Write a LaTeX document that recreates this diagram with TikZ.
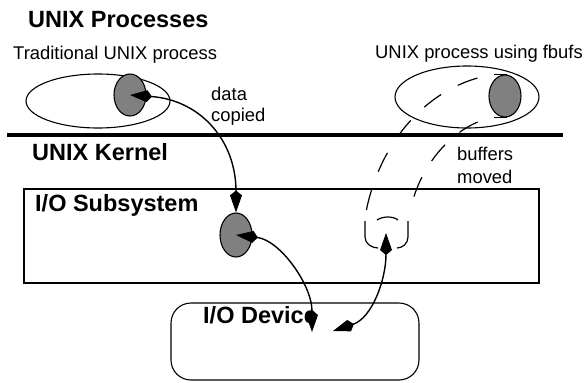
\documentclass[tikz,border=0pt]{standalone}
\usepackage{fontspec}
\setmainfont{Liberation Sans}
\usetikzlibrary{positioning, arrows.meta, shapes.geometric}
\definecolor{bufgray}{RGB}{128,128,128}

\begin{document}
\begin{tikzpicture}[x=1pt, y=-1pt, node distance=0pt,
	head/.style={font=\fontsize{23.5}{28}\selectfont\bfseries, anchor=base west, inner sep=0pt},
	note/.style={font=\fontsize{18.4}{22}\selectfont, anchor=base west, inner sep=0pt},
	proc/.style={ellipse, draw, line width=1.1pt, inner sep=0pt},
	buf/.style={ellipse, draw, fill=bufgray, line width=1.1pt, inner sep=0pt, minimum width=32pt},
	flow/.style={{Kite[length=22pt,width=12pt,inset=5pt]}-{Kite[length=22pt,width=12pt,inset=5pt]}, line width=1.4pt},
	tube/.style={dash pattern=on 21pt off 19pt, dash phase=23pt, line width=1.2pt}]

	\useasboundingbox (0,0) rectangle (587,383);

	\node[head] (tProc) at (28,27) {UNIX Processes};
	\node[note] (tTrad) at (13,59) {Traditional UNIX process};
	\node[note] (tFbuf) at (375,58) {UNIX process using fbufs};

	\node[proc, minimum width=144pt, minimum height=54pt] (procL) at (98,101) {};
	\node[buf, minimum height=42pt] (bufL) at (130,95) {};

	\node[proc, minimum width=144pt, minimum height=62pt] (procR) at (467,97) {};
	\node[buf, minimum height=42pt] (bufR) at (505,96) {};

	\node[note] (tData) at (211,100) {data};
	\node[note] (tCopied) at ([yshift=-21pt]tData.base west) {copied};

	\coordinate (kL) at (7,135);
	\coordinate (kR) at (563,135);
	\draw[line width=4.5pt] (kL) -- (kR);

	\node[head] (tKern) at (32,160) {UNIX Kernel};
	\node[note] (tBuffers) at (457,160) {buffers};
	\node[note] (tMoved) at ([yshift=-23pt]tBuffers.base west) {moved};

	\node[draw, line width=1.1pt, inner sep=0pt, minimum width=515pt, minimum height=94pt] (subsys) at (281.5,236) {};
	\node[head] (tSub) at (35,211) {I/O Subsystem};
	\node[buf, minimum height=44pt] (bufS) at (236,235) {};

	\node[draw, line width=1.1pt, rounded corners=20pt, inner sep=0pt, minimum width=248pt, minimum height=77pt] (device) at (295,341.5) {};
	\node[head] (tDev) at (203,323) {I/O Device};

	\coordinate (topA) at ([xshift=2pt]bufR.north);
	\coordinate (topB) at ([xshift=-11pt]bufR.north);
	\coordinate (botA) at ([xshift=2pt]bufR.south);
	\coordinate (botB) at ([xshift=-11pt]bufR.south);
	\draw[line width=1.2pt] (topA) -- (topB);
	\draw[line width=1.2pt] (botA) -- (botB);
	\draw[tube] (topB) .. controls (430,84) and (380,140) .. (366,212);
	\draw[tube] (botB) .. controls (460,122) and (420,160) .. (410,212);
	\draw[line width=1.2pt] (365,221) -- (365,237) .. controls (365,244) and (372,248) .. (378,248);
	\draw[line width=1.2pt] (408,221) -- (408,237) .. controls (408,244) and (402,248) .. (397,248);
	\draw[line width=1.2pt] (377,220) .. controls (383,216) and (393,216) .. (398,220);

	\coordinate (dIn) at (312,332);
	\coordinate (dOut) at (333,331);
	\coordinate (tubeEnd) at (386,233);

	\draw[flow] (bufL.center) .. controls (200,100) and (236,140) .. (bufS.north);
	\draw[flow] (bufS.center) .. controls (280,240) and (312,285) .. (dIn);
	\draw[flow] (dOut) .. controls (372,318) and (386,280) .. (tubeEnd);

\end{tikzpicture}
\end{document}
